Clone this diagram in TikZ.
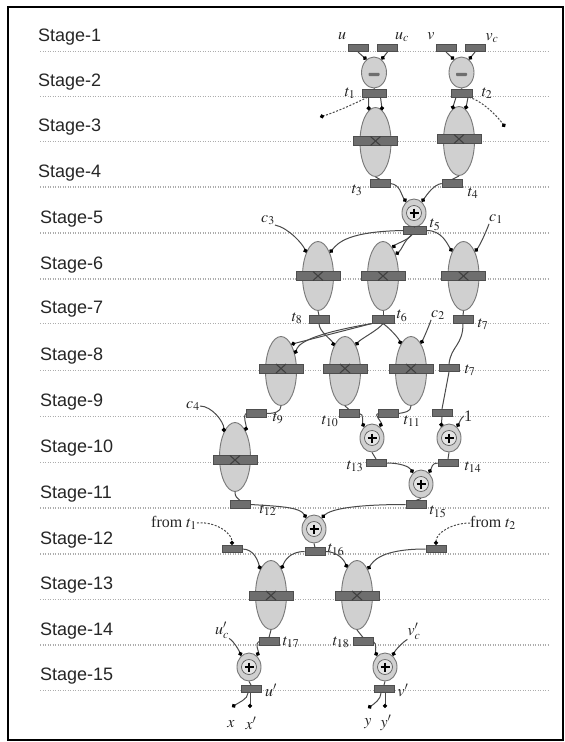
\documentclass[tikz,border=0pt]{standalone}
\usepackage{mathptmx}
\usepackage{fontspec}
\setmainfont{Liberation Serif}
\setsansfont{Liberation Sans}
\usetikzlibrary{shapes.geometric,arrows.meta}
\definecolor{ellf}{HTML}{D0D0D0}
\definecolor{elld}{HTML}{787878}
\definecolor{regf}{HTML}{6E6E6E}
\definecolor{regd}{HTML}{4E4E4E}
\definecolor{wirec}{HTML}{4A4A4A}
\definecolor{stagec}{HTML}{ADADAD}
\definecolor{innerf}{HTML}{E4E4E4}
\tikzset{
 reg/.style={rectangle, fill=regf, draw=regd, line width=0.6pt, minimum width=20pt, minimum height=7.5pt, inner sep=0pt},
 mul/.style={ellipse, fill=ellf, draw=elld, line width=0.9pt, minimum width=31pt, minimum height=69pt, inner sep=0pt},
 subn/.style={ellipse, fill=ellf, draw=elld, line width=0.9pt, minimum width=25pt, minimum height=31pt, inner sep=0pt},
 addo/.style={ellipse, fill=ellf, draw=elld, line width=0.9pt, minimum width=24pt, minimum height=28pt, inner sep=0pt},
 addi/.style={circle, fill=innerf, draw=elld!80!black, line width=0.7pt, minimum size=15pt, inner sep=0pt},
 barn/.style={rectangle, fill=regf, draw=regd, line width=0.6pt, minimum width=44pt, minimum height=9pt, inner sep=0pt},
 xmark/.style={draw=black!75, line width=1.1pt},
 pluss/.style={draw=black, line width=1.7pt},
 link/.style={draw=wirec, line width=1pt},
 wire/.style={link, -{Circle[length=4.2pt,color=black]}},
 dwire/.style={wire, dash pattern=on 2pt off 1.6pt},
 stageline/.style={draw=stagec, line width=1.4pt, dash pattern=on 1.4pt off 1.1pt},
 stagelab/.style={font=\sffamily\fontsize{18}{18}\selectfont, anchor=base west, inner sep=0pt, text=black!85},
 lab/.style={font=\fontsize{16}{16}\selectfont, inner sep=0pt, text=black!85},
}
\newcommand\mulnode[4]{%
 \node[mul] (#1) at (#2,#3) {};
 \node[barn] (#1b) at (#2,#4) {};
 \draw[xmark] (#1b.center) +(-5,-4.5) -- +(5,4.5) +(-5,4.5) -- +(5,-4.5);}
\newcommand\addnode[3]{%
 \node[addo] (#1) at (#2,#3) {};
 \node[addi] (#1i) at (#2,#3) {};
 \draw[pluss] (#1i.center) +(-4.5,0) -- +(4.5,0) +(0,-4.5) -- +(0,4.5);}
\newcommand\subnode[3]{%
 \node[subn] (#1) at (#2,#3) {};
 \fill[regf, rounded corners=0.8pt] (#1.center) +(-5.5,0.3) rectangle +(5.5,3.5);}
\begin{document}
\begin{tikzpicture}[x=1pt,y=-1pt]
\useasboundingbox (0,0) rectangle (565,742);
\fill[white] (0,0) rectangle (565,742);
\draw[line width=2pt] (8,7) rectangle (563,740);
% stage lines and labels
\foreach \k/\yy/\xx in {1/51.5/38, 2/96.7/38, 3/141.7/38, 4/187/38, 5/233/40, 6/279/40, 7/323.5/40, 8/370.7/40, 9/416.7/40, 10/462.7/40, 11/508/40, 12/554/40, 13/599.3/40, 14/645/40, 15/690.7/40} {
  \draw[stageline] (40,\yy) -- (548,\yy);
  \node[stagelab] (s\k) at (\xx,\yy-10) {Stage-\k};
}
% ---------- nodes ----------
% stage 1
\node[reg] (ru) at (358,48) {};
\node[reg] (ruc) at (387.5,48) {};
\node[reg] (rv) at (446,48) {};
\node[reg] (rvc) at (475,48) {};
\node[lab] (lu) at (342,36) {$u$};
\node[lab] (luc) at (402,37) {$u_c$};
\node[lab] (lv) at (431,36) {$v$};
\node[lab] (lvc) at (492,38) {$v_c$};
% stage 2
\subnode{sub1}{374}{72.5}
\subnode{sub2}{461.5}{72.5}
\node[reg, minimum width=24pt] (rt1) at (374.5,93.2) {};
\node[reg, minimum width=21pt] (rt2) at (462,93.2) {};
\node[lab] (lt1) at (350,93) {$t_1$};
\node[lab] (lt2) at (487,93) {$t_2$};
\coordinate (d1) at (320,117);
\coordinate (d2) at (505,127);
% stage 3-4
\mulnode{m1}{375.5}{142}{141}
\mulnode{m2}{459}{141}{139}
\node[reg] (rt3) at (380,183.5) {};
\node[reg] (rt4) at (452,183.5) {};
\node[lab] (lt3) at (357,190) {$t_3$};
\node[lab] (lt4) at (473,193) {$t_4$};
% stage 5
\addnode{p5}{414}{213}
\node[reg, minimum width=23pt] (rt5) at (415,230.5) {};
\node[lab] (lt5) at (435,225) {$t_5$};
\node[lab] (lc3) at (268,220) {$c_3$};
\node[lab] (lc1) at (496,219) {$c_1$};
% stage 6-7
\mulnode{m6a}{318}{276}{276}
\mulnode{m6b}{383}{276}{276}
\mulnode{m6c}{463.5}{276}{276}
\node[reg] (rt8) at (319,319.5) {};
\node[reg, minimum width=22pt] (rt6) at (383,319.5) {};
\node[reg] (rt7) at (463,319.5) {};
\node[lab] (lt8) at (297,318) {$t_8$};
\node[lab] (lt6) at (402,316) {$t_6$};
\node[lab] (lt7) at (483,324) {$t_7$};
\node[lab] (lc2) at (438,315) {$c_2$};
% stage 8
\mulnode{m8a}{281}{371}{368.5}
\mulnode{m8b}{345}{371}{368.5}
\mulnode{m8c}{411}{371}{368.5}
\node[reg] (rt7b) at (449,368) {};
\node[lab] (lt7b) at (470,370) {$t_7$};
% stage 9
\node[reg] (rt9) at (256,413.5) {};
\node[reg] (rt10) at (349,413.5) {};
\node[reg] (rt11) at (388,413.5) {};
\node[reg] (rone) at (442,413) {};
\node[lab] (lt9) at (278,418) {$t_9$};
\node[lab] (lt10) at (330,421) {$t_{10}$};
\node[lab] (lt11) at (412,421) {$t_{11}$};
\node[lab] (lone) at (468,416) {1};
\node[lab] (lc4) at (193,406) {$c_4$};
% stage 10
\mulnode{m10}{235}{457}{460}
\addnode{p10a}{372}{438}
\addnode{p10b}{449}{438}
\node[reg] (rt13) at (376,463) {};
\node[reg] (rt14) at (448,463) {};
\node[lab] (lt13) at (355,466) {$t_{13}$};
\node[lab] (lt14) at (473,467) {$t_{14}$};
% stage 11
\addnode{p11}{421}{484}
\node[reg] (rt12) at (240,504.5) {};
\node[reg] (rt15) at (416,504.5) {};
\node[lab] (lt12) at (268,510) {$t_{12}$};
\node[lab] (lt15) at (438,512) {$t_{15}$};
% stage 12
\addnode{p12}{314}{529}
\node[reg] (rt16) at (315,551.5) {};
\node[reg] (r12a) at (232,549) {};
\node[reg] (r12b) at (436,549) {};
\node[lab] (lt16) at (336,550) {$t_{16}$};
\node[lab] (lft1) at (174,523) {from $t_1$};
\node[lab] (lft2) at (493,523) {from $t_2$};
% stage 13-14
\mulnode{m13a}{271}{595}{595.5}
\mulnode{m13b}{357}{595}{595.5}
\node[reg] (rt17) at (269,641.5) {};
\node[reg] (rt18) at (363,641.5) {};
\node[lab] (lt17) at (291,642) {$t_{17}$};
\node[lab] (lt18) at (341,642) {$t_{18}$};
\node[lab] (luc2) at (222,630) {$u'_c$};
\node[lab] (lvc2) at (414,631) {$v'_c$};
% stage 15
\addnode{p15a}{249}{667}
\addnode{p15b}{385}{667}
\node[reg] (ruo) at (251,689) {};
\node[reg] (rvo) at (384,689) {};
\node[lab] (lup) at (271,690) {$u'$};
\node[lab] (lvp) at (403,690) {$v'$};
\coordinate (ox) at (232,707);
\coordinate (oxp) at (250,708);
\coordinate (oy) at (368,708);
\coordinate (oyp) at (385,708);
\node[lab] (lx) at (231,724) {$x$};
\node[lab] (lxp) at (251,723) {$x'$};
\node[lab] (ly) at (368,724) {$y$};
\node[lab] (lyp) at (386,723) {$y'$};
% ---------- connectors ----------
\draw[wire] (ru.south) -- (sub1.120);
\draw[wire] (ruc.south) -- (sub1.60);
\draw[wire] (rv.south) -- (sub2.120);
\draw[wire] (rvc.south) -- (sub2.60);
\draw[link] (sub1.south) -- (rt1.north);
\draw[link] (sub2.south) -- (rt2.north);
\draw[wire] ([xshift=-6pt]rt1.south) -- (m1.102);
\draw[wire] ([xshift=6pt]rt1.south) -- (m1.78);
\draw[wire] ([xshift=-6pt]rt2.south) -- (m2.102);
\draw[wire] ([xshift=6pt]rt2.south) -- (m2.78);
\draw[dwire] ([xshift=-7pt]rt1.south) .. controls +(-12,6) and +(16,-5) .. (d1);
\draw[dwire] ([xshift=7pt]rt2.south) .. controls +(14,4) and +(-7,-10) .. (d2);
\draw[link] (m1.south) -- (rt3.north);
\draw[link] (m2.south) -- (rt4.north);
\draw[wire] (rt3.east) .. controls +(10,1) and +(-5,-7) .. (p5.125);
\draw[wire] (rt4.west) .. controls +(-8,1) and +(5,-7) .. (p5.55);
\draw[link] (p5.south) -- (rt5.north);
\draw[wire] (rt5.west) .. controls +(-55,1) and +(8,-10) .. (m6a.63);
\draw[wire] (lc3.south east) .. controls +(14,3) and +(-3,-8) .. (m6a.117);
\draw[wire] ([xshift=-3pt]rt5.south) .. controls +(-3,5) and +(3,-4) .. (m6b.71);
\draw[wire] ([xshift=-3pt]rt5.south) .. controls +(-8,6) and +(6,-4) .. (m6b.60);
\draw[wire] (rt5.east) .. controls +(15,0) and +(-5,-8) .. (m6c.115);
\draw[wire] (lc1.south west) .. controls +(-3,8) and +(5,-6) .. (m6c.65);
\draw[link] (m6a.south) -- (rt8.north);
\draw[link] (m6b.south) -- (rt6.north);
\draw[link] (m6c.south) -- (rt7.north);
\draw[wire] (rt6.south west) -- (m8a.69);
\draw[wire] (rt6.south west) .. controls +(-70,12) and +(3,-8) .. (m8a.51);
\draw[wire] (rt8.south) .. controls +(0,8) and +(-2,-6) .. (m8b.114);
\draw[wire] (rt6.south) .. controls +(-4,6) and +(4,-6) .. (m8b.67);
\draw[wire] (rt6.south) .. controls +(6,4) and +(-2,-6) .. (m8c.111);
\draw[wire] (lc2.south west) .. controls +(-2,6) and +(3,-6) .. (m8c.70);
\draw[link] (rt7.south) .. controls +(0,22) and +(2,-18) .. (rt7b.north);
\draw[link] (m8a.south) .. controls +(0,6) and +(8,0) .. (rt9.east);
\draw[link] (m8b.south) -- (rt10.north);
\draw[link] (m8c.south) .. controls +(0,6) and +(6,-1) .. (rt11.east);
\draw[link] (rt7b.south) -- (rone.north);
\draw[wire] (lc4.east) .. controls +(12,0) and +(0,-10) .. (m10.114);
\draw[wire] (rt9.west) .. controls +(-3,2) and +(1,-5) .. (m10.68);
\draw[wire] (rt10.east) .. controls +(5,0) and +(-2,-4) .. (p10a.125);
\draw[wire] (rt11.west) .. controls +(-4,0) and +(2,-4) .. (p10a.55);
\draw[wire] (rone.south) -- (p10b.125);
\draw[wire] (lone.west) .. controls +(-3,2) and +(2,-3) .. (p10b.55);
\draw[link] (p10a.south) -- (rt13.north);
\draw[link] (p10b.south) -- (rt14.north);
\draw[wire] (rt13.east) .. controls +(15,0) and +(-4,-6) .. (p11.125);
\draw[wire] (rt14.west) .. controls +(-6,0) and +(3,-5) .. (p11.55);
\draw[link] (p11.south) -- (rt15.north);
\draw[link] (m10.south) .. controls +(0,5) and +(-3,-3) .. (rt12.north);
\draw[wire] (rt12.east) .. controls +(35,2) and +(-6,-10) .. (p12.125);
\draw[wire] (rt15.west) .. controls +(-55,0) and +(8,-8) .. (p12.55);
\draw[link] (p12.south) -- (rt16.north);
\draw[dwire] (lft1.east) .. controls +(18,-2) and +(0,-12) .. (r12a.north);
\draw[dwire] (lft2.west) .. controls +(-18,0) and +(0,-12) .. (r12b.north);
\draw[wire] (r12a.east) .. controls +(12,0) and +(-2,-8) .. (m13a.113);
\draw[wire] (rt16.west) .. controls +(-15,0) and +(3,-8) .. (m13a.68);
\draw[wire] (rt16.east) .. controls +(12,0) and +(-3,-8) .. (m13b.110);
\draw[wire] (r12b.west) .. controls +(-45,0) and +(5,-8) .. (m13b.67);
\draw[link] (m13a.south) -- (rt17.north);
\draw[link] (m13b.south) -- (rt18.north);
\draw[wire] (luc2.south east) .. controls +(5,3) and +(-2,-5) .. (p15a.125);
\draw[wire] (rt17.west) .. controls +(-4,2) and +(2,-4) .. (p15a.55);
\draw[wire] (rt18.east) .. controls +(4,2) and +(-2,-4) .. (p15b.125);
\draw[wire] (lvc2.south west) .. controls +(-5,3) and +(2,-5) .. (p15b.55);
\draw[link] (p15a.south) -- (ruo.north);
\draw[link] (p15b.south) -- (rvo.north);
\draw[wire] ([xshift=-3pt]ruo.south) .. controls +(0,6) and +(6,-4) .. (ox);
\draw[wire] ([xshift=-1pt]ruo.south) -- (oxp);
\draw[wire] ([xshift=-3pt]rvo.south) .. controls +(0,6) and +(6,-4) .. (oy);
\draw[wire] ([xshift=1pt]rvo.south) -- (oyp);
\end{tikzpicture}
\end{document}
